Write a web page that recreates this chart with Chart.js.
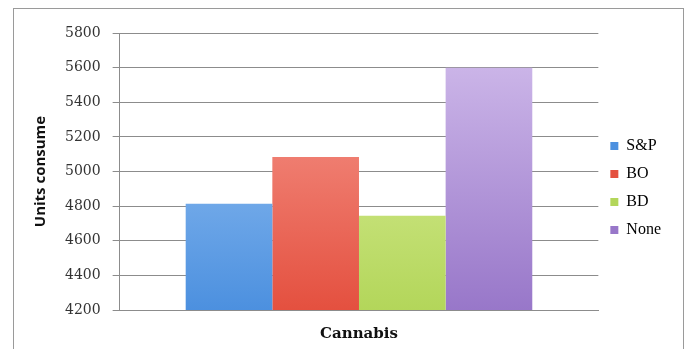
<!DOCTYPE html>
<html>
<head>
<meta charset="utf-8">
<script src="https://cdn.jsdelivr.net/npm/chart.js@4/dist/chart.umd.min.js"></script>
<style>
  body { margin: 0; background: #fff; }
  #wrap { width: 689px; height: 349px; }
</style>
</head>
<body>
<div id="wrap"><canvas id="units-chart" width="689" height="349"></canvas></div>
<script>
const categories = [""];
const seriesNames = ["S&P", "BO", "BD", "None"];
const sp = [4813];
const bo = [5084];
const bd = [4745];
const none = [5600];
const yTicks = [4200, 4400, 4600, 4800, 5000, 5200, 5400, 5600, 5800];

// top / bottom colours for each bar's vertical gradient
const shades = [
  ["#a6cdf7", "#4c90df"],
  ["#f8a197", "#e4503f"],
  ["#e3f3a8", "#b3d65a"],
  ["#d2bdec", "#9877c9"],
];

function barFill(idx) {
  return (ctx) => {
    const area = ctx.chart.chartArea;
    if (!area) return shades[idx][1];
    const g = ctx.chart.ctx.createLinearGradient(0, area.top, 0, area.bottom);
    g.addColorStop(0, shades[idx][0]);
    g.addColorStop(1, shades[idx][1]);
    return g;
  };
}

const frame = {
  id: "frame",
  beforeDraw(chart) {
    const c = chart.ctx;
    c.save();
    c.fillStyle = "#fff";
    c.fillRect(0, 0, chart.width, chart.height);
    c.strokeStyle = "#9a9a9a";
    c.lineWidth = 1;
    c.strokeRect(13.5, 8.5, 670, 360);
    c.restore();
  },
};

const allSeries = [sp, bo, bd, none];

new Chart(document.querySelector("#units-chart"), {
  type: "bar",
  data: {
    labels: categories,
    datasets: allSeries.map((vals, i) => ({
      label: seriesNames[i],
      data: vals,
      backgroundColor: barFill(i),
      borderWidth: 0,
    })),
  },
  plugins: [frame],
  options: {
    responsive: false,
    animation: false,
    categoryPercentage: 0.724,
    barPercentage: 1,
    layout: { padding: { left: 32, right: 18, top: 33, bottom: 6 } },
    plugins: {
      tooltip: { enabled: false },
      legend: {
        position: "right",
        align: "center",
        labels: {
          boxWidth: 8,
          boxHeight: 8,
          padding: 12,
          color: "#222",
          font: { family: "Liberation Serif", size: 16 },
          generateLabels: (chart) =>
            seriesNames.map((name, i) => ({
              text: name,
              fillStyle: shades[i][1],
              strokeStyle: shades[i][1],
              lineWidth: 0,
              datasetIndex: i,
            })),
        },
      },
    },
    scales: {
      x: {
        grid: { display: false },
        border: { color: "#8c8c8c" },
        ticks: { display: false },
        title: {
          display: true,
          text: "Cannabis",
          color: "#111",
          font: { family: "DejaVu Serif", size: 15, weight: "bold" },
          padding: { top: 7, bottom: 0 },
        },
      },
      y: {
        min: 4200,
        max: 5800,
        afterBuildTicks: (axis) => {
          axis.ticks = yTicks.map((v) => ({ value: v }));
        },
        grid: { color: "#8c8c8c", tickLength: 7 },
        border: { color: "#8c8c8c" },
        ticks: {
          color: "#333",
          padding: 12,
          font: { family: "DejaVu Serif", size: 14 },
          callback: (v) => String(v),
        },
        title: {
          display: true,
          text: "Units consume",
          color: "#111",
          font: { family: "Open Sans", size: 15, weight: "bold" },
          padding: { top: 0, bottom: 3 },
        },
      },
    },
  },
});
</script>
</body>
</html>
